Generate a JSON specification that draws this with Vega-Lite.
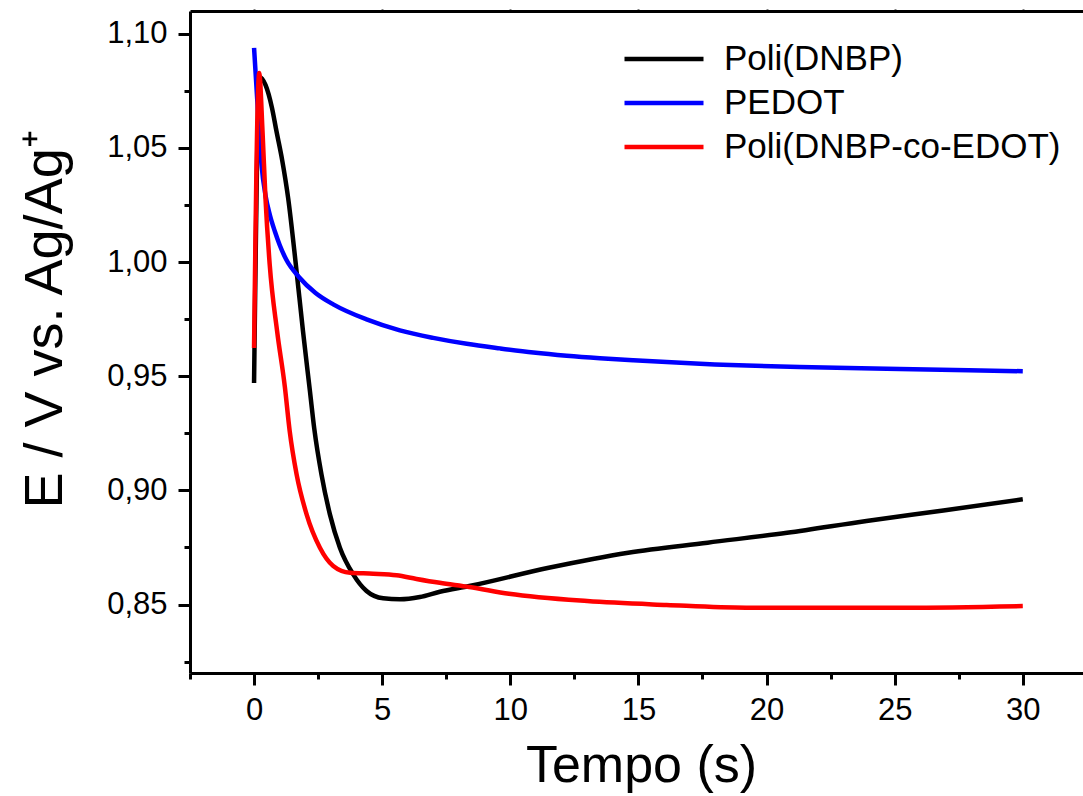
{
  "$schema": "https://vega.github.io/schema/vega-lite/v6.json",
  "autosize": {"type": "none"},
  "padding": {"left": 190, "top": 11, "right": 0, "bottom": 123},
  "width": 893,
  "height": 662,
  "background": "white",
  "config": {
    "view": {"stroke": null},
    "axis": {"grid": false, "labelFont": "Liberation Sans", "titleFont": "Liberation Sans", "labelColor": "black", "titleColor": "black", "domainColor": "black", "tickColor": "black", "domainWidth": 3, "tickWidth": 3, "titleFontWeight": "normal"},
    "legend": {"labelFont": "Liberation Sans"}
  },
  "data": {"values": [
    {"s": "Poli(DNBP)", "t": 0, "e": 0.947},
    {"s": "Poli(DNBP)", "t": 0.22, "e": 1.081},
    {"s": "Poli(DNBP)", "t": 0.45, "e": 1.0775},
    {"s": "Poli(DNBP)", "t": 0.7, "e": 1.0675},
    {"s": "Poli(DNBP)", "t": 0.875, "e": 1.0573},
    {"s": "Poli(DNBP)", "t": 1.1, "e": 1.0445},
    {"s": "Poli(DNBP)", "t": 1.33, "e": 1.0281},
    {"s": "Poli(DNBP)", "t": 1.63, "e": 0.999},
    {"s": "Poli(DNBP)", "t": 1.91, "e": 0.9697},
    {"s": "Poli(DNBP)", "t": 2.18, "e": 0.9435},
    {"s": "Poli(DNBP)", "t": 2.35, "e": 0.927},
    {"s": "Poli(DNBP)", "t": 2.63, "e": 0.907},
    {"s": "Poli(DNBP)", "t": 2.96, "e": 0.8895},
    {"s": "Poli(DNBP)", "t": 3.35, "e": 0.8749},
    {"s": "Poli(DNBP)", "t": 3.87, "e": 0.8632},
    {"s": "Poli(DNBP)", "t": 4.39, "e": 0.8559},
    {"s": "Poli(DNBP)", "t": 5.04, "e": 0.8527},
    {"s": "Poli(DNBP)", "t": 5.69, "e": 0.8523},
    {"s": "Poli(DNBP)", "t": 6.47, "e": 0.8533},
    {"s": "Poli(DNBP)", "t": 7.25, "e": 0.8556},
    {"s": "Poli(DNBP)", "t": 8.4, "e": 0.8581},
    {"s": "Poli(DNBP)", "t": 11.5, "e": 0.8661},
    {"s": "Poli(DNBP)", "t": 14.6, "e": 0.8727},
    {"s": "Poli(DNBP)", "t": 17.7, "e": 0.8771},
    {"s": "Poli(DNBP)", "t": 20.8, "e": 0.8814},
    {"s": "Poli(DNBP)", "t": 23.9, "e": 0.8866},
    {"s": "Poli(DNBP)", "t": 26.9, "e": 0.8912},
    {"s": "Poli(DNBP)", "t": 30, "e": 0.8961},
    {"s": "PEDOT", "t": 0, "e": 1.0938},
    {"s": "PEDOT", "t": 0.16, "e": 1.0646},
    {"s": "PEDOT", "t": 0.29, "e": 1.0427},
    {"s": "PEDOT", "t": 0.45, "e": 1.029},
    {"s": "PEDOT", "t": 0.62, "e": 1.0205},
    {"s": "PEDOT", "t": 0.81, "e": 1.0135},
    {"s": "PEDOT", "t": 1.0, "e": 1.0075},
    {"s": "PEDOT", "t": 1.26, "e": 1.001},
    {"s": "PEDOT", "t": 1.75, "e": 0.9935},
    {"s": "PEDOT", "t": 2.4, "e": 0.9865},
    {"s": "PEDOT", "t": 3.09, "e": 0.9815},
    {"s": "PEDOT", "t": 4.39, "e": 0.9749},
    {"s": "PEDOT", "t": 5.69, "e": 0.9701},
    {"s": "PEDOT", "t": 6.99, "e": 0.9668},
    {"s": "PEDOT", "t": 8.3, "e": 0.9642},
    {"s": "PEDOT", "t": 9.6, "e": 0.9622},
    {"s": "PEDOT", "t": 10.9, "e": 0.9604},
    {"s": "PEDOT", "t": 12.2, "e": 0.959},
    {"s": "PEDOT", "t": 13.5, "e": 0.9579},
    {"s": "PEDOT", "t": 14.8, "e": 0.957},
    {"s": "PEDOT", "t": 16.1, "e": 0.9562},
    {"s": "PEDOT", "t": 17.4, "e": 0.9555},
    {"s": "PEDOT", "t": 21.3, "e": 0.954},
    {"s": "PEDOT", "t": 25.2, "e": 0.9532},
    {"s": "PEDOT", "t": 30, "e": 0.9522},
    {"s": "Poli(DNBP-co-EDOT)", "t": 0, "e": 0.9624},
    {"s": "Poli(DNBP-co-EDOT)", "t": 0.2, "e": 1.0828},
    {"s": "Poli(DNBP-co-EDOT)", "t": 0.33, "e": 1.0573},
    {"s": "Poli(DNBP-co-EDOT)", "t": 0.445, "e": 1.0281},
    {"s": "Poli(DNBP-co-EDOT)", "t": 0.61, "e": 0.999},
    {"s": "Poli(DNBP-co-EDOT)", "t": 0.9, "e": 0.9697},
    {"s": "Poli(DNBP-co-EDOT)", "t": 1.2, "e": 0.9455},
    {"s": "Poli(DNBP-co-EDOT)", "t": 1.39, "e": 0.926},
    {"s": "Poli(DNBP-co-EDOT)", "t": 1.66, "e": 0.907},
    {"s": "Poli(DNBP-co-EDOT)", "t": 2.05, "e": 0.8895},
    {"s": "Poli(DNBP-co-EDOT)", "t": 2.57, "e": 0.8749},
    {"s": "Poli(DNBP-co-EDOT)", "t": 3.09, "e": 0.8669},
    {"s": "Poli(DNBP-co-EDOT)", "t": 3.75, "e": 0.8639},
    {"s": "Poli(DNBP-co-EDOT)", "t": 4.65, "e": 0.8635},
    {"s": "Poli(DNBP-co-EDOT)", "t": 5.56, "e": 0.8628},
    {"s": "Poli(DNBP-co-EDOT)", "t": 6.34, "e": 0.8612},
    {"s": "Poli(DNBP-co-EDOT)", "t": 7.25, "e": 0.8595},
    {"s": "Poli(DNBP-co-EDOT)", "t": 8.4, "e": 0.8577},
    {"s": "Poli(DNBP-co-EDOT)", "t": 9.95, "e": 0.8547},
    {"s": "Poli(DNBP-co-EDOT)", "t": 13.0, "e": 0.8515},
    {"s": "Poli(DNBP-co-EDOT)", "t": 16.1, "e": 0.8498},
    {"s": "Poli(DNBP-co-EDOT)", "t": 19.2, "e": 0.8486},
    {"s": "Poli(DNBP-co-EDOT)", "t": 22.3, "e": 0.8486},
    {"s": "Poli(DNBP-co-EDOT)", "t": 25.4, "e": 0.8486},
    {"s": "Poli(DNBP-co-EDOT)", "t": 30, "e": 0.8493}
  ]},
  "layer": [
    {
      "mark": {"type": "line", "strokeWidth": 4.5, "strokeJoin": "round", "interpolate": "monotone"},
      "encoding": {
        "x": {
          "field": "t", "type": "quantitative",
          "scale": {"domain": [-2.5, 32.35], "nice": false, "zero": false},
          "axis": {
            "orient": "bottom",
            "values": [-2.5, 0, 2.5, 5, 7.5, 10, 12.5, 15, 17.5, 20, 22.5, 25, 27.5, 30],
            "labelExpr": "abs(datum.value/5 - round(datum.value/5)) < 0.001 ? format(datum.value, 'd') : ''",
            "tickSize": {"condition": {"test": "abs(datum.value/5 - round(datum.value/5)) < 0.001", "value": 12}, "value": 6},
            "labelFontSize": 31, "labelPadding": 10, "labelFlush": false, "labelOverlap": false,
            "title": "Tempo (s)", "titleFontSize": 52,
            "titleX": 451, "titleY": 108, "titleAlign": "center", "titleBaseline": "alphabetic"
          }
        },
        "y": {
          "field": "e", "type": "quantitative",
          "scale": {"domain": [0.82, 1.11], "nice": false, "zero": false},
          "axis": {
            "orient": "left",
            "values": [0.825, 0.85, 0.875, 0.9, 0.925, 0.95, 0.975, 1.0, 1.025, 1.05, 1.075, 1.1],
            "labelExpr": "abs(datum.value*20 - round(datum.value*20)) < 0.001 ? replace(format(datum.value, '.2f'), '.', ',') : ''",
            "tickSize": {"condition": {"test": "abs(datum.value*20 - round(datum.value*20)) < 0.001", "value": 12}, "value": 6},
            "labelFontSize": 31, "labelPadding": 11, "labelFlush": false, "labelOverlap": false,
            "title": "E / V vs. Ag/Ag⁺", "titleFontSize": 54,
            "titleAngle": -90, "titleX": -129, "titleY": 497, "titleAlign": "left", "titleBaseline": "alphabetic"
          }
        },
        "color": {
          "field": "s", "type": "nominal",
          "scale": {"domain": ["Poli(DNBP)", "PEDOT", "Poli(DNBP-co-EDOT)"], "range": ["#000000", "#0000ff", "#ff0000"]},
          "legend": {
            "orient": "none", "legendX": 432, "legendY": 26, "title": null,
            "symbolType": "stroke", "symbolSize": 6241, "symbolStrokeWidth": 4.5,
            "labelFontSize": 35, "labelColor": "black", "labelOffset": 18, "rowPadding": 0, "clipHeight": 44, "padding": 0, "labelLimit": 600
          }
        }
      }
    },
    {
      "mark": {"type": "line", "strokeOpacity": 0},
      "encoding": {
        "x": {
          "field": "t", "type": "quantitative",
          "axis": {"orient": "top", "values": [0, 5, 10, 15, 20, 25, 30], "labels": false, "tickSize": 2, "tickWidth": 2, "title": null}
        },
        "y": {"field": "e", "type": "quantitative"},
        "detail": {"field": "s", "type": "nominal"}
      }
    }
  ],
  "resolve": {"axis": {"x": "independent"}}
}
